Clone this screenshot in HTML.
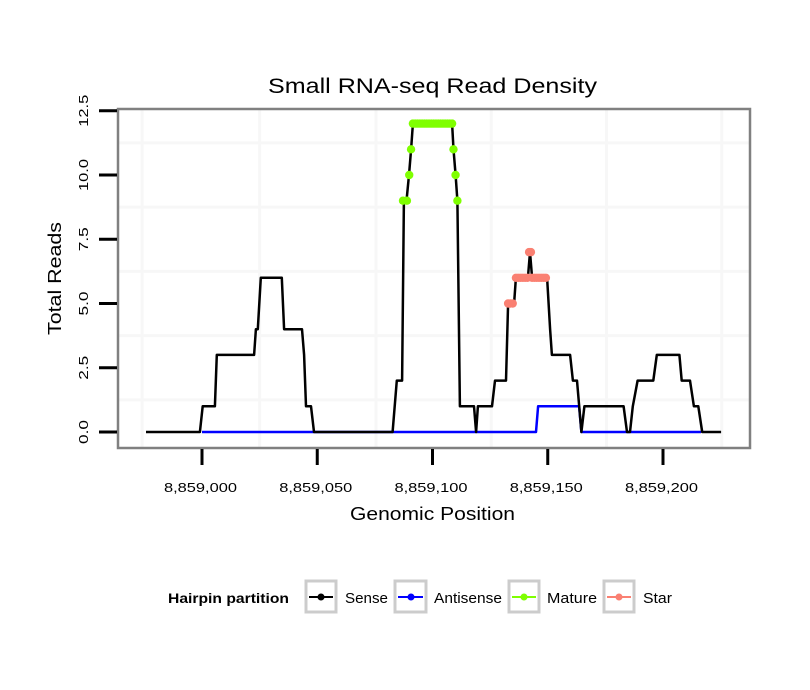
<!DOCTYPE html>
<html><head><meta charset="utf-8"><style>
body{margin:0;background:#fff;}
svg{display:block;font-family:"Liberation Sans",sans-serif;}
</style></head><body>
<svg id="chart" width="810" height="690" viewBox="0 0 810 690">
<rect x="0" y="0" width="810" height="690" fill="#fff"/>
<text x="268" y="93" font-size="21" textLength="329" lengthAdjust="spacingAndGlyphs">Small RNA-seq Read Density</text>
<g id="grid"></g>
<g id="series"></g>
<rect x="118" y="109" width="632" height="339" fill="none" stroke="#808080" stroke-width="2.5"/>
<g id="axes"></g>
<text x="350" y="520" font-size="18" textLength="165" lengthAdjust="spacingAndGlyphs">Genomic Position</text>
<text transform="translate(61,335) rotate(-90)" font-size="18" textLength="113" lengthAdjust="spacingAndGlyphs">Total Reads</text>
<g>
<text x="168" y="603" font-size="14" font-weight="bold" textLength="121" lengthAdjust="spacingAndGlyphs">Hairpin partition</text>
<g><rect x="306" y="581" width="30" height="31" fill="#fff" stroke="#cccccc" stroke-width="3"/><line x1="309" y1="597" x2="333" y2="597" stroke="#000" stroke-width="2"/><circle cx="321" cy="597" r="3.5" fill="#000"/><text x="345" y="603" font-size="15" textLength="43" lengthAdjust="spacingAndGlyphs">Sense</text></g>
<g><rect x="395" y="581" width="31" height="31" fill="#fff" stroke="#cccccc" stroke-width="3"/><line x1="398" y1="597" x2="423" y2="597" stroke="#0000ff" stroke-width="2"/><circle cx="411" cy="597" r="3.5" fill="#0000ff"/><text x="434" y="603" font-size="15" textLength="68" lengthAdjust="spacingAndGlyphs">Antisense</text></g>
<g><rect x="509" y="581" width="30" height="31" fill="#fff" stroke="#cccccc" stroke-width="3"/><line x1="512" y1="597" x2="536" y2="597" stroke="#7fff00" stroke-width="2"/><circle cx="524" cy="597" r="3.5" fill="#7fff00"/><text x="547" y="603" font-size="15" textLength="50" lengthAdjust="spacingAndGlyphs">Mature</text></g>
<g><rect x="604" y="581" width="30" height="31" fill="#fff" stroke="#cccccc" stroke-width="3"/><line x1="607" y1="597" x2="631" y2="597" stroke="#fa8072" stroke-width="2"/><circle cx="619" cy="597" r="3.5" fill="#fa8072"/><text x="643" y="603" font-size="15" textLength="29" lengthAdjust="spacingAndGlyphs">Star</text></g>
</g>
</svg>
<script>
const BASE = 8859000;
const xTicks = [8859000, 8859050, 8859100, 8859150, 8859200];
const xTickLabels = ["8,859,000", "8,859,050", "8,859,100", "8,859,150", "8,859,200"];
const yTicks = [0, 2.5, 5, 7.5, 10, 12.5];
const yTickLabels = ["0.0", "2.5", "5.0", "7.5", "10.0", "12.5"];
const xGrid = [-26, 25, 75.5, 125.5, 175.5, 225.5];
const yGrid = [1.25, 3.75, 6.25, 8.75, 11.25];
const senseOffsets = [-24.3,-0.9,0.3,5.6,6.4,22.6,23.4,24.2,25.5,34.6,35.6,43.4,44.3,45.1,47.3,48.6,82.7,84.5,86.8,87.6,88.7,89.8,90.7,91.5,108.5,109.1,110,110.8,111.9,118,118.9,119.7,125.8,127.1,131.9,132.8,135.4,136.2,141.4,142.3,143.2,149.7,151,151.8,159.7,160.9,162.7,164.6,165.9,182.9,184.4,185.7,186.9,189,195.8,197.3,207.1,208.1,211.7,213.4,215.3,217,225.2];
const senseValues = [0,0,1,1,3,3,4,4,6,6,4,4,3,1,1,0,0,2,2,9,9,10,11,12,12,11,10,9,1,1,0,1,1,2,2,5,5,6,6,7,6,6,4,3,3,2,2,0,1,1,0,0,1,2,2,3,3,2,2,1,1,0,0];
const antiOffsets = [0,144.9,145.8,163.6,164.6,216.5];
const antiValues = [0,0,1,1,0,0];
const matureOffsets = [87.2,88.9,89.9,90.7,91.5,92.5,93.5,94.5,95.5,96.5,97.5,98.5,99.5,100.5,101.5,102.5,103.5,104.5,105.5,106.5,107.5,108.5,109.1,110,110.8];
const matureValues = [9,9,10,11,12,12,12,12,12,12,12,12,12,12,12,12,12,12,12,12,12,12,11,10,9];
const starOffsets = [132.8,133.8,134.8,136.2,137.2,138.2,139.2,140.2,141.2,141.9,142.7,143.2,144.2,145.2,146.2,147.2,148.2,149.2];
const starValues = [5,5,5,6,6,6,6,6,6,7,7,6,6,6,6,6,6,6];

const NS = "http://www.w3.org/2000/svg";
function xs(pos){ return 202 + (pos - BASE) * 2.305; }
function ys(v){ return 432 - v * 25.7; }
function mk(tag, attrs, parent){ const e = document.createElementNS(NS, tag); for (const k in attrs) e.setAttribute(k, attrs[k]); parent.appendChild(e); return e; }

const grid = document.getElementById('grid');
xGrid.forEach(o => {
  const l = mk('line', {x1: xs(BASE+o), x2: xs(BASE+o), y1: 110, y2: 447, stroke: '#f7f7f7', 'stroke-width': 3}, grid);
  
  
});
yGrid.forEach(v => {
  const l = mk('line', {x1: 119, x2: 749, y1: ys(v), y2: ys(v), stroke: '#f7f7f7', 'stroke-width': 3}, grid);
  
  
});

const axes = document.getElementById('axes');
xTicks.forEach((t, i) => {
  const l = mk('line', {x1: xs(t), x2: xs(t), y1: 449, y2: 465, stroke: '#000', 'stroke-width': 3}, axes);
  
  
  const tx = mk('text', {x: xs(t) - 38, y: 492, 'font-size': 13, textLength: 73, lengthAdjust: 'spacingAndGlyphs'}, axes);
  tx.textContent = xTickLabels[i];
  
  
});
yTicks.forEach((t, i) => {
  const len = yTickLabels[i].length > 3 ? 32 : 24;
  const l = mk('line', {x1: 99, x2: 117, y1: ys(t), y2: ys(t), stroke: '#000', 'stroke-width': 3}, axes);
  
  
  const tx = mk('text', {transform: 'translate(88,' + (ys(t) + len/2) + ') rotate(-90)', 'font-size': 13, textLength: len, lengthAdjust: 'spacingAndGlyphs'}, axes);
  tx.textContent = yTickLabels[i];
  
  
});

const series = document.getElementById('series');
function line(offs, vals, color, name){
  const d = offs.map((o, i) => (i ? 'L' : 'M') + xs(BASE+o).toFixed(1) + ',' + ys(vals[i]).toFixed(1)).join(' ');
  const p = mk('path', {d: d, fill: 'none', stroke: color, 'stroke-width': 2.5, 'stroke-linejoin': 'round'}, series);
  
  
}
function dots(offs, vals, color, name){
  offs.forEach((o, i) => {
    const c = mk('circle', {cx: xs(BASE+o), cy: ys(vals[i]), r: 4.2, fill: color}, series);
    
    
  });
}
line(antiOffsets, antiValues, '#0000ff', 'antisense-line');
line(senseOffsets, senseValues, '#000000', 'sense-line');
dots(matureOffsets, matureValues, '#7fff00', 'mature-point');
dots(starOffsets, starValues, '#fa8072', 'star-point');
</script>
</body></html>
